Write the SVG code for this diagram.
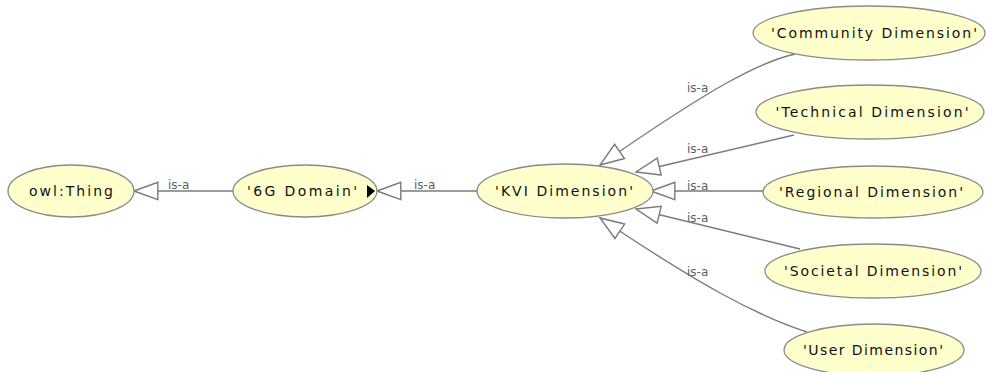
<svg xmlns="http://www.w3.org/2000/svg" width="986" height="372" viewBox="0 0 986 372">
  <style>
    .node ellipse { fill: #ffffcc; stroke: #8a8a8a; stroke-width: 1.3; }
    .node text { font-family: "DejaVu Sans", "Liberation Sans", sans-serif; font-size: 14px; fill: #111111; text-anchor: middle; }
    .edge { fill: none; stroke: #7a7a7a; stroke-width: 1.4; marker-end: url(#hollow); }
    .lbl { font-family: "DejaVu Sans", "Liberation Sans", sans-serif; font-size: 12px; fill: #5e5e5e; }
  </style>
  <defs>
    <marker id="hollow" markerUnits="userSpaceOnUse" markerWidth="26" markerHeight="20" viewBox="-1 -1 24 18" refX="22" refY="8" orient="auto">
      <path d="M0,0 L22,8 L0,16 Z" fill="#ffffff" stroke="#7a7a7a" stroke-width="1.3"/>
    </marker>
  </defs>
  <rect width="986" height="372" fill="#ffffff"/>

  <g id="connectors">
    <path class="edge" d="M233,191 L134,191"/>
    <path class="edge" d="M477,191 L377,191"/>
    <path class="edge" d="M795,54 C760,62 715,85 600,165"/>
    <path class="edge" d="M794,135 L636,172"/>
    <path class="edge" d="M763,191 L651,191"/>
    <path class="edge" d="M800,249 L636,209"/>
    <path class="edge" d="M807,332 C755,315 700,285 600,218"/>
    <text class="lbl" x="168" y="189">is-a</text>
    <text class="lbl" x="414" y="189">is-a</text>
    <text class="lbl" x="687" y="92">is-a</text>
    <text class="lbl" x="687" y="153">is-a</text>
    <text class="lbl" x="687" y="190">is-a</text>
    <text class="lbl" x="687" y="222">is-a</text>
    <text class="lbl" x="687" y="276">is-a</text>
  </g>

  <g id="owl-thing" class="node">
    <ellipse cx="71" cy="191" rx="63" ry="26"/>
    <text x="71" y="196" textLength="84" lengthAdjust="spacing">owl:Thing</text>
  </g>
  <g id="domain-6g" class="node">
    <ellipse cx="305" cy="191" rx="72" ry="26"/>
    <text x="302" y="196" textLength="110" lengthAdjust="spacing">'6G Domain'</text>
    <polygon points="367,185 375,191 367,198" fill="#000000"/>
  </g>
  <g id="kvi-dimension" class="node">
    <ellipse cx="565" cy="191" rx="88" ry="27"/>
    <text x="564" y="196" textLength="138" lengthAdjust="spacing">'KVI Dimension'</text>
  </g>
  <g id="community-dimension" class="node">
    <ellipse cx="869" cy="33" rx="116" ry="27"/>
    <text x="874" y="38" textLength="206" lengthAdjust="spacing">'Community Dimension'</text>
  </g>
  <g id="technical-dimension" class="node">
    <ellipse cx="870" cy="112" rx="114" ry="27"/>
    <text x="872" y="117" textLength="193" lengthAdjust="spacing">'Technical Dimension'</text>
  </g>
  <g id="regional-dimension" class="node">
    <ellipse cx="873" cy="192" rx="110" ry="26"/>
    <text x="871" y="197" textLength="184" lengthAdjust="spacing">'Regional Dimension'</text>
  </g>
  <g id="societal-dimension" class="node">
    <ellipse cx="873" cy="271" rx="108" ry="27"/>
    <text x="873" y="276" textLength="178" lengthAdjust="spacing">'Societal Dimension'</text>
  </g>
  <g id="user-dimension" class="node">
    <ellipse cx="874" cy="350" rx="90" ry="26"/>
    <text x="873" y="355" textLength="140" lengthAdjust="spacing">'User Dimension'</text>
  </g>
</svg>
